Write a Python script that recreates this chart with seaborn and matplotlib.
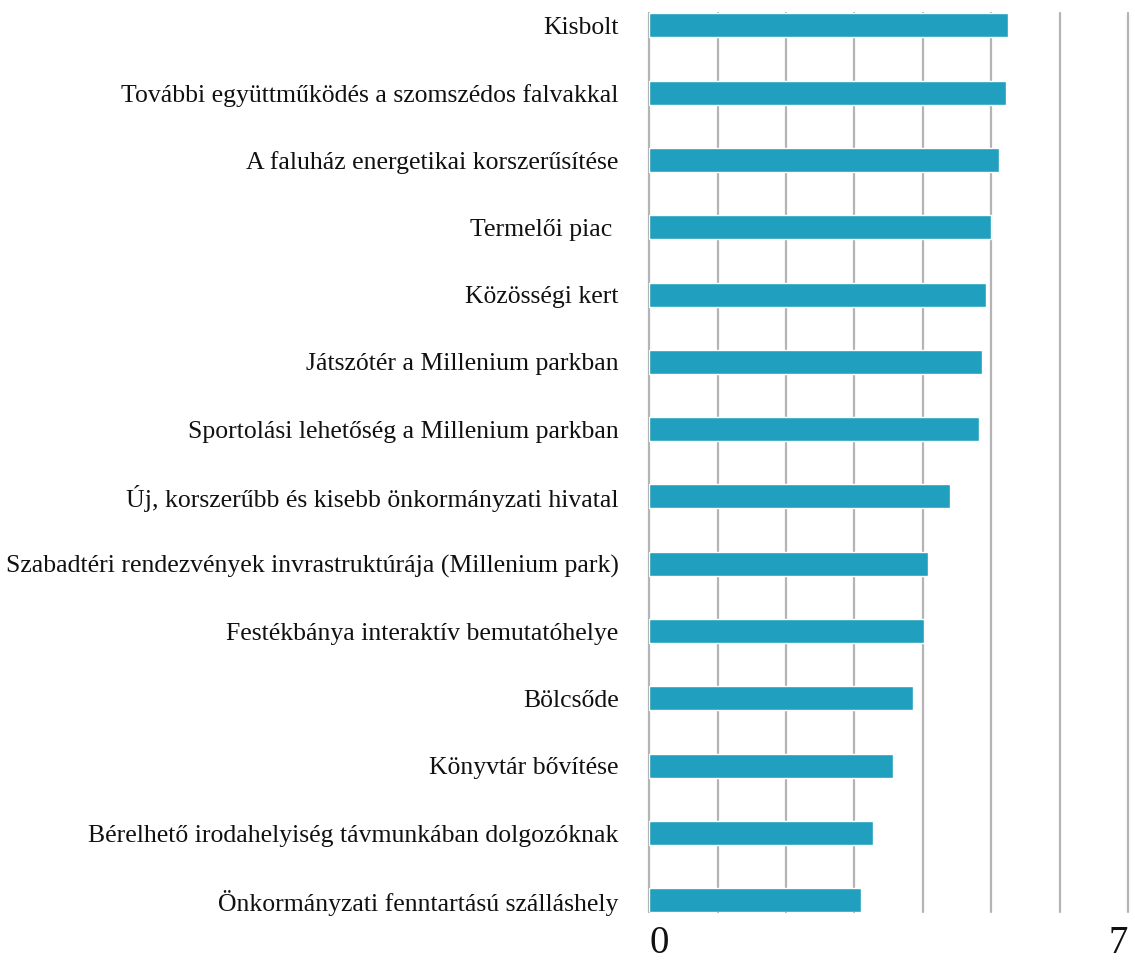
import matplotlib
matplotlib.use("Agg")
import matplotlib.pyplot as plt
import seaborn as sns
import pandas as pd

categories = [
    "Kisbolt",
    "További együttműködés a szomszédos falvakkal",
    "A faluház energetikai korszerűsítése",
    "Termelői piac ",
    "Közösségi kert",
    "Játszótér a Millenium parkban",
    "Sportolási lehetőség a Millenium parkban",
    "Új, korszerűbb és kisebb önkormányzati hivatal",
    "Szabadtéri rendezvények invrastruktúrája (Millenium park)",
    "Festékbánya interaktív bemutatóhelye",
    "Bölcsőde",
    "Könyvtár bővítése",
    "Bérelhető irodahelyiség távmunkában dolgozóknak",
    "Önkormányzati fenntartású szálláshely",
]
values = [5.24, 5.21, 5.11, 4.99, 4.92, 4.86, 4.82, 4.40, 4.07, 4.01, 3.85, 3.56, 3.27, 3.10]
x_ticks = [0, 1, 2, 3, 4, 5, 6, 7]
x_tick_labels = ["0", "", "", "", "", "", "", "7"]

df = pd.DataFrame({"category": categories, "value": values})

sns.set_theme(style="white")
plt.rcParams["font.family"] = ["Liberation Serif", "DejaVu Serif"]

fig = plt.figure(figsize=(11.35, 9.6), dpi=100)
ax = fig.add_axes([0.572, 0.0497, 0.422, 0.9364])
ax.set_axisbelow(True)

bw = 0.356
sns.barplot(data=df, x="value", y="category", orient="h", color="#20a0be",
            saturation=1, width=bw, ax=ax, zorder=3)

ax.set_xlim(0, 7)
ax.set_ylim(len(categories) - 1 + bw / 2, -bw / 2)
ax.set_xticks(x_ticks)
ax.set_xticklabels(x_tick_labels, fontsize=28)
ax.xaxis.grid(True, color="#b4b4b4", linewidth=1.6)
for gl in ax.get_xgridlines():
    gl.set_clip_on(False)
    gl.set_zorder(0.5)
ax.yaxis.grid(False)
for s in ax.spines.values():
    s.set_visible(False)
ax.tick_params(axis="both", length=0)
ax.tick_params(axis="x", pad=9)
ax.tick_params(axis="y", pad=22, labelsize=18.5)
ax.set_xlabel("")
ax.set_ylabel("")
labs = ax.get_xticklabels()
labs[0].set_ha("left")
labs[-1].set_ha("right")
for t in ax.get_yticklabels():
    t.set_color("#111111")
for t in labs:
    t.set_color("#111111")

fig.savefig("out.png", dpi=100, facecolor="white")
